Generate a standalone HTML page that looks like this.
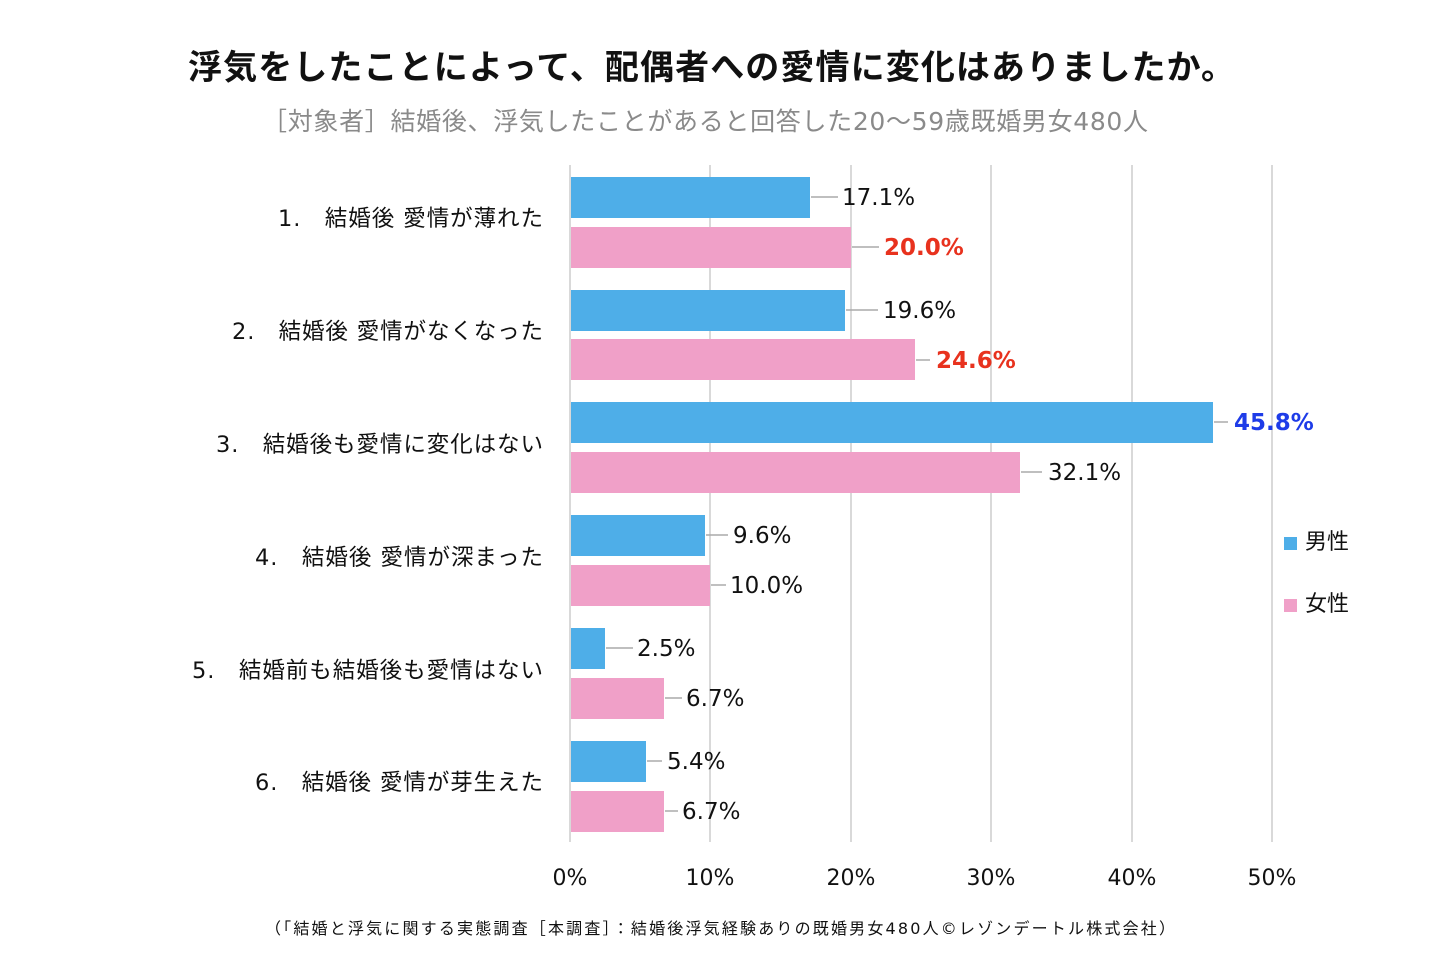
<!DOCTYPE html>
<html><head><meta charset="utf-8"><style>
html,body{margin:0;padding:0;background:#fff;}
svg{display:block;font-family:"DejaVu Sans","Noto Sans CJK JP",sans-serif;}
</style></head><body>
<svg width="1440" height="960" viewBox="0 0 1440 960" xmlns="http://www.w3.org/2000/svg" xml:space="preserve">
<text x="188" y="79" font-size="34" font-weight="bold" fill="#111" textLength="1047" lengthAdjust="spacing">浮気をしたことによって、配偶者への愛情に変化はありましたか。</text>
<text x="262" y="130" font-size="25" fill="#8a8a8a" textLength="886" lengthAdjust="spacing">［対象者］結婚後、浮気したことがあると回答した20～59歳既婚男女480人</text>
<g stroke="#d9d9d9" stroke-width="2">
<line x1="570" y1="165" x2="570" y2="842"/><line x1="710" y1="165" x2="710" y2="842"/><line x1="851" y1="165" x2="851" y2="842"/><line x1="991" y1="165" x2="991" y2="842"/><line x1="1132" y1="165" x2="1132" y2="842"/><line x1="1272" y1="165" x2="1272" y2="842"/>
</g>
<g font-size="22" fill="#111" text-anchor="middle">
<text x="570" y="885">0%</text><text x="710" y="885">10%</text><text x="851" y="885">20%</text><text x="991" y="885">30%</text><text x="1132" y="885">40%</text><text x="1272" y="885">50%</text>
</g>
<g font-size="22.5" fill="#111">
<text x="278" y="226" textLength="265" lengthAdjust="spacing">1.　結婚後 愛情が薄れた</text>
<text x="232" y="339" textLength="311" lengthAdjust="spacing">2.　結婚後 愛情がなくなった</text>
<text x="216" y="452" textLength="327" lengthAdjust="spacing">3.　結婚後も愛情に変化はない</text>
<text x="255" y="565" textLength="288" lengthAdjust="spacing">4.　結婚後 愛情が深まった</text>
<text x="192" y="678" textLength="351" lengthAdjust="spacing">5.　結婚前も結婚後も愛情はない</text>
<text x="255" y="790" textLength="288" lengthAdjust="spacing">6.　結婚後 愛情が芽生えた</text>
</g>
<g stroke="#aaa" stroke-width="1.5">
<line x1="811" y1="197" x2="838" y2="197"/><line x1="852" y1="247" x2="879" y2="247"/>
<line x1="846" y1="310" x2="878" y2="310"/><line x1="916" y1="360" x2="930" y2="360"/>
<line x1="1214" y1="422" x2="1228" y2="422"/><line x1="1021" y1="472" x2="1042" y2="472"/>
<line x1="706" y1="535" x2="728" y2="535"/><line x1="711" y1="585" x2="726" y2="585"/>
<line x1="606" y1="648" x2="633" y2="648"/><line x1="665" y1="698" x2="682" y2="698"/>
<line x1="647" y1="761" x2="662" y2="761"/><line x1="665" y1="811" x2="678" y2="811"/>
</g>
<g fill="#4eaee8">
<rect x="571" y="177" width="239" height="41"/>
<rect x="571" y="290" width="274" height="41"/>
<rect x="571" y="402" width="642" height="41"/>
<rect x="571" y="515" width="134" height="41"/>
<rect x="571" y="628" width="34" height="41"/>
<rect x="571" y="741" width="75" height="41"/>
</g>
<g fill="#f0a0c8">
<rect x="571" y="227" width="280" height="41"/>
<rect x="571" y="339" width="344" height="41"/>
<rect x="571" y="452" width="449" height="41"/>
<rect x="571" y="565" width="139" height="41"/>
<rect x="571" y="678" width="93" height="41"/>
<rect x="571" y="791" width="93" height="41"/>
</g>
<g font-size="23" fill="#111">
<text x="842" y="205">17.1%</text>
<text x="884" y="255" fill="#e8321e" font-weight="bold">20.0%</text>
<text x="883" y="318">19.6%</text>
<text x="936" y="368" fill="#e8321e" font-weight="bold">24.6%</text>
<text x="1234" y="430" fill="#1e3ce8" font-weight="bold">45.8%</text>
<text x="1048" y="480">32.1%</text>
<text x="733" y="543">9.6%</text>
<text x="730" y="593">10.0%</text>
<text x="637" y="656">2.5%</text>
<text x="686" y="706">6.7%</text>
<text x="667" y="769">5.4%</text>
<text x="682" y="819">6.7%</text>
</g>
<rect x="1284" y="537" width="13" height="13" fill="#4eaee8"/>
<text x="1305" y="549" font-size="22" fill="#111">男性</text>
<rect x="1284" y="599" width="13" height="13" fill="#f0a0c8"/>
<text x="1305" y="611" font-size="22" fill="#111">女性</text>
<text x="265" y="934" font-size="16" fill="#111" textLength="910" lengthAdjust="spacing">（「結婚と浮気に関する実態調査［本調査］：結婚後浮気経験ありの既婚男女480人©レゾンデートル株式会社）</text>
</svg>
</body></html>
